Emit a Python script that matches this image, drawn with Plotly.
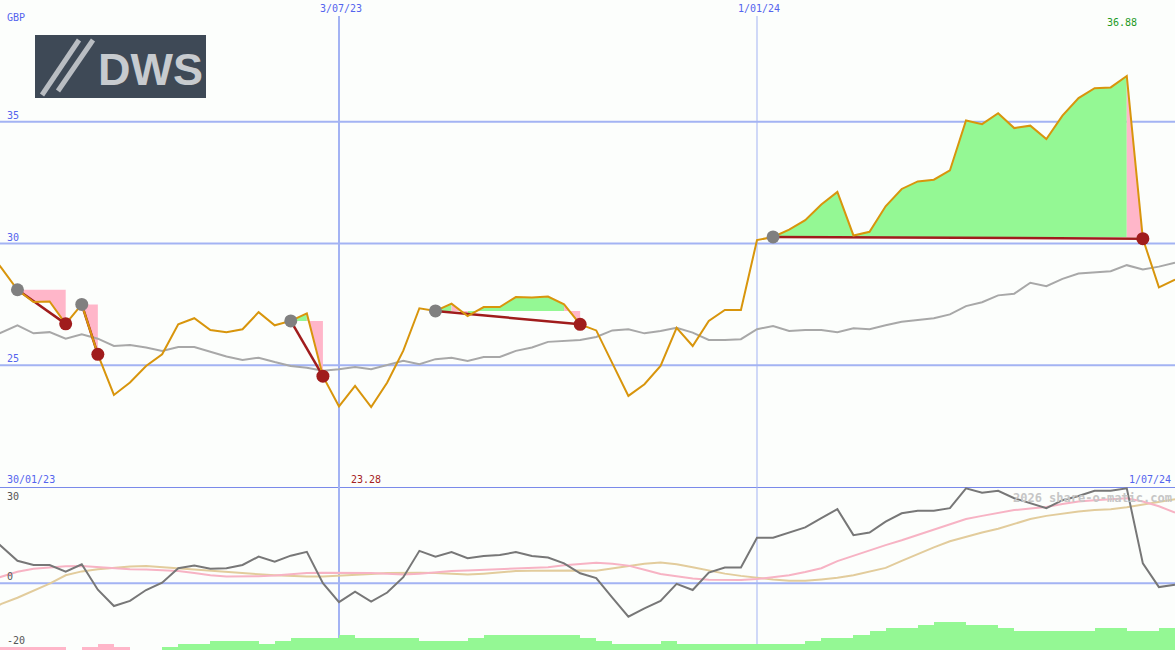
import pandas as pd
import plotly.graph_objects as go

# ---------------- data (weekly, 30/01/23 .. 1/07/24) ----------------
dates = pd.date_range("2023-01-30", periods=75, freq="7D")

price = [29.8, 29.0, 28.1, 27.6, 27.62, 26.7, 27.5, 25.45, 23.78, 24.29,
         24.97, 25.45, 26.68, 26.93, 26.45, 26.36, 26.48, 27.18, 26.64, 26.82,
         27.13, 24.55, 23.31, 24.15, 23.28, 24.29, 25.6, 27.34, 27.23, 27.53,
         27.02, 27.39, 27.39, 27.80, 27.78, 27.82, 27.5, 26.68, 26.43, 25.1,
         23.74, 24.22, 24.97, 26.54, 25.79, 26.82, 27.27, 27.27, 30.14, 30.27,
         30.57, 30.96, 31.6, 32.12, 30.33, 30.48, 31.53, 32.24, 32.55, 32.62,
         33.0, 35.05, 34.9, 35.35, 34.74, 34.84, 34.29, 35.25, 35.97, 36.38,
         36.41, 36.88, 30.2, 28.2, 28.52]

moving_avg = [26.05, 26.34, 26.64, 26.31, 26.36, 26.09, 26.27, 26.09, 25.79, 25.83,
              25.73, 25.59, 25.75, 25.75, 25.55, 25.36, 25.22, 25.31, 25.13, 24.97,
              24.90, 24.77, 24.84, 24.93, 24.84, 25.0, 25.18, 25.04, 25.25, 25.31,
              25.18, 25.34, 25.34, 25.59, 25.73, 25.96, 26.00, 26.04, 26.16, 26.43,
              26.48, 26.31, 26.41, 26.54, 26.34, 26.04, 26.04, 26.07, 26.48, 26.61,
              26.41, 26.45, 26.45, 26.36, 26.52, 26.48, 26.64, 26.79, 26.86, 26.93,
              27.09, 27.43, 27.59, 27.87, 27.94, 28.39, 28.25, 28.55, 28.77, 28.82,
              28.86, 29.11, 28.93, 29.05, 29.21]

oscillator = [16.0, 11.5, 7.0, 5.7, 5.7, 3.6, 5.9, -2.0, -7.1, -5.5,
              -2.1, 0.2, 4.7, 5.5, 4.5, 4.7, 5.7, 8.3, 6.7, 8.6,
              9.8, 0.0, -5.9, -2.6, -5.7, -2.9, 1.9, 10.1, 8.3, 9.7,
              7.8, 8.5, 8.8, 9.7, 8.5, 8.0, 6.2, 3.1, 1.6, -4.5,
              -10.4, -7.8, -5.5, -0.2, -2.1, 3.3, 4.9, 4.9, 14.2, 14.2,
              15.8, 17.4, 20.3, 23.1, 15.0, 15.8, 19.2, 21.8, 22.6, 22.6,
              23.4, 29.6, 28.2, 28.8, 26.5, 24.9, 23.4, 25.9, 27.2, 28.8,
              28.8, 29.6, 6.2, -1.2, -0.5]

osc_fast = [0.5, 2.0, 3.6, 4.5, 5.0, 5.3, 5.4, 5.0, 4.7, 4.4,
            4.3, 4.1, 3.8, 3.2, 2.5, 2.1, 2.1, 2.2, 2.4, 2.8,
            3.2, 3.3, 3.3, 3.3, 3.2, 3.0, 2.7, 3.0, 3.5, 3.8,
            4.0, 4.2, 4.3, 4.5, 4.7, 5.0, 5.6, 6.1, 6.4, 6.1,
            5.5, 4.2, 2.9, 2.2, 1.5, 1.1, 1.0, 1.0, 1.3, 1.8,
            2.5, 3.5, 4.7, 6.9, 8.6, 10.4, 11.9, 13.4, 15.1, 16.8,
            18.3, 20.0, 21.0, 22.0, 22.8, 23.3, 23.8, 24.7, 25.5, 25.9,
            26.3, 26.5, 25.5, 24.0, 22.0]

osc_slow = [-9.0, -6.4, -4.5, -2.3, -0.1, 2.5, 3.7, 4.4, 4.9, 5.2,
            5.4, 5.0, 4.6, 4.2, 3.9, 3.5, 3.1, 2.8, 2.5, 2.2,
            2.1, 2.1, 2.3, 2.6, 2.9, 3.2, 3.3, 3.3, 3.2, 3.0,
            2.7, 3.0, 3.5, 3.8, 3.9, 4.0, 4.1, 4.0, 3.9, 4.6,
            5.4, 6.1, 6.5, 5.9, 5.0, 4.0, 3.0, 2.3, 1.7, 1.2,
            0.8, 0.8, 1.2, 1.7, 2.5, 3.6, 4.8, 7.0, 9.2, 11.2,
            13.1, 14.5, 15.8, 17.0, 18.6, 20.0, 21.0, 21.8, 22.4, 22.8,
            23.1, 23.7, 24.5, 25.3, 26.2]

# weekly strength histogram (negative = pink, positive = green)
strength = [-1, -1, -1, -1, -1, 0, -1, -2, -1, 0,
            0, 1, 2, 2, 3, 3, 3, 2, 3, 4,
            4, 4, 5, 4, 4, 4, 4, 3, 3, 3,
            4, 5, 5, 5, 5, 5, 5, 4, 3, 2,
            2, 2, 3, 2, 2, 2, 2, 2, 2, 2,
            2, 3, 4, 4, 5, 6, 7, 7, 8, 9,
            9, 8, 8, 7, 6, 6, 6, 6, 6, 7,
            7, 6, 6, 7, 7]

entry_dates = ["2023-02-13", "2023-03-13", "2023-06-12", "2023-08-14", "2024-01-08"]
exit_dates = ["2023-03-06", "2023-03-20", "2023-06-26", "2023-10-16", "2024-06-17"]

marker_dates = ["2023-07-03", "2024-01-01"]
marker_labels = ["3/07/23", "1/01/24"]
price_ticks = [35, 30, 25]
osc_ticks = [30, 0, -20]
start_label = "30/01/23"
end_label = "1/07/24"
currency = "GBP"

# ---------------- styling ----------------
BG = "#fcfefc"
GRID = "#a3b3f3"
BORDER = "#7a8aea"
BLUE_TXT = "#5464ee"
GREEN_FILL = "#94f894"
PINK_FILL = "#ffb6c9"
ORANGE = "#d8950c"
DARK_RED = "#a01c1c"
MONO = "DejaVu Sans Mono"

W, H = 1175, 650
LOWER_FRAC = 163 / H

fig = go.Figure()

# ---------------- trade fills ----------------
idx = {d: i for i, d in enumerate(dates)}
green_x, green_y, pink_x, pink_y = [], [], [], []
for ed, xd in zip(entry_dates, exit_dates):
    a = idx[pd.Timestamp(ed)]
    b = idx[pd.Timestamp(xd)]
    level = price[a]
    s = a
    while s < b:
        up = price[s + 1] >= level
        e = s
        while e + 1 < b and (price[e + 2] >= level) == up:
            e += 1
        xs = [dates[s]] + list(dates[s:e + 2]) + [dates[e + 1], None]
        ys = [level] + price[s:e + 2] + [level, None]
        if up:
            green_x += xs
            green_y += ys
        else:
            pink_x += xs
            pink_y += ys
        s = e + 1

fig.add_trace(go.Scatter(x=green_x, y=green_y, fill="toself", fillcolor=GREEN_FILL,
                         mode="none", hoverinfo="skip", showlegend=False))
fig.add_trace(go.Scatter(x=pink_x, y=pink_y, fill="toself", fillcolor=PINK_FILL,
                         mode="none", hoverinfo="skip", showlegend=False))

# moving average
fig.add_trace(go.Scatter(x=dates, y=moving_avg, mode="lines",
                         line=dict(color="#a8a8a8", width=2), showlegend=False))

# trade lines
tl_x, tl_y = [], []
for ed, xd in zip(entry_dates, exit_dates):
    a = idx[pd.Timestamp(ed)]
    b = idx[pd.Timestamp(xd)]
    tl_x += [dates[a], dates[b], None]
    tl_y += [price[a], price[b], None]
fig.add_trace(go.Scatter(x=tl_x, y=tl_y, mode="lines",
                         line=dict(color=DARK_RED, width=2.5), showlegend=False))

# price
fig.add_trace(go.Scatter(x=dates, y=price, mode="lines",
                         line=dict(color=ORANGE, width=2), showlegend=False))

# entry / exit dots
ent_i = [idx[pd.Timestamp(d)] for d in entry_dates]
ext_i = [idx[pd.Timestamp(d)] for d in exit_dates]
fig.add_trace(go.Scatter(x=[dates[i] for i in ent_i], y=[price[i] for i in ent_i],
                         mode="markers", marker=dict(color="#808080", size=13),
                         showlegend=False))
fig.add_trace(go.Scatter(x=[dates[i] for i in ext_i], y=[price[i] for i in ext_i],
                         mode="markers", marker=dict(color=DARK_RED, size=13),
                         showlegend=False))

# ---------------- lower panel ----------------
fig.add_trace(go.Scatter(x=dates, y=osc_slow, mode="lines", yaxis="y2",
                         line=dict(color="#e2cc9c", width=2), showlegend=False))
fig.add_trace(go.Scatter(x=dates, y=osc_fast, mode="lines", yaxis="y2",
                         line=dict(color="#f7b3c4", width=2), showlegend=False))
fig.add_trace(go.Scatter(x=dates, y=oscillator, mode="lines", yaxis="y2",
                         line=dict(color="#777777", width=2), showlegend=False))

week_ms = 7 * 24 * 3600 * 1000
fig.add_trace(go.Bar(x=dates, y=[abs(v) for v in strength], yaxis="y3",
                     width=[week_ms] * len(dates), offset=0,
                     marker=dict(color=[GREEN_FILL if v > 0 else PINK_FILL for v in strength],
                                 line=dict(width=0)),
                     showlegend=False, hoverinfo="skip"))

# ---------------- shapes ----------------
shapes = []
for t in price_ticks:
    shapes.append(dict(type="line", xref="paper", yref="y", x0=0, x1=1, y0=t, y1=t,
                       line=dict(color=GRID, width=2), layer="below"))
shapes.append(dict(type="line", xref="paper", yref="y2", x0=0, x1=1, y0=0, y1=0,
                   line=dict(color=GRID, width=2), layer="below"))
shapes.append(dict(type="line", xref="paper", yref="y2", x0=0, x1=1, y0=30, y1=30,
                   line=dict(color=BORDER, width=2), layer="below"))
for d, w in zip(marker_dates, [2, 1]):
    shapes.append(dict(type="line", xref="x", yref="paper", x0=d, x1=d, y0=0,
                       y1=(H - 16) / H, line=dict(color=GRID, width=w), layer="below"))

# logo
def px(x, y):
    return x / W, (H - y) / H

lx0, ly0 = px(35, 98)
lx1, ly1 = px(206, 35)
shapes.append(dict(type="rect", xref="paper", yref="paper", x0=lx0, y0=ly0, x1=lx1, y1=ly1,
                   fillcolor="#3e4956", line=dict(width=0), layer="above"))
for (xa, ya, xb, yb) in [(42, 95, 79, 40), (58, 91, 93, 40)]:
    p0 = px(xa, ya)
    p1 = px(xb, yb)
    shapes.append(dict(type="line", xref="paper", yref="paper", x0=p0[0], y0=p0[1],
                       x1=p1[0], y1=p1[1], line=dict(color="#b9bdc2", width=5),
                       layer="above"))

# ---------------- annotations ----------------
ann = []
def label(text, x, y, xref, yref, xanchor, yanchor, color, size=10, xshift=0, yshift=0,
          family=MONO):
    ann.append(dict(text=text, x=x, y=y, xref=xref, yref=yref, xanchor=xanchor,
                    yanchor=yanchor, showarrow=False, xshift=xshift, yshift=yshift,
                    font=dict(family=family, size=size, color=color)))

label(currency, 5 / W, (H - 18) / H, "paper", "paper", "left", "middle", BLUE_TXT)
for t in price_ticks:
    label(str(t), 5 / W, t, "paper", "y", "left", "bottom", BLUE_TXT, yshift=-1)
for d, t in zip(marker_dates, marker_labels):
    label(t, d, 1, "x", "paper", "center", "top", BLUE_TXT, xshift=2, yshift=-1)
label(start_label, 5 / W, 30, "paper", "y2", "left", "bottom", BLUE_TXT)
label(end_label, 1, 30, "paper", "y2", "right", "bottom", BLUE_TXT, xshift=-2)

imax = max(range(len(price)), key=lambda i: price[i])
imin = min(range(len(price)), key=lambda i: price[i])
label(f"{price[imax]:.2f}", dates[imax], (H - 22) / H, "x", "paper", "center", "middle",
      "#1f9a1f", xshift=-5)
label(f"{price[imin]:.2f}", dates[imin], 30, "x", "y2", "center", "bottom",
      "#a52222", xshift=-5)

for t in osc_ticks:
    if t == max(osc_ticks):
        label(str(t), 5 / W, t, "paper", "y2", "left", "top", "#555555", yshift=-2)
    else:
        label(str(t), 5 / W, t, "paper", "y2", "left", "bottom", "#555555", yshift=-1)

label("<b>2026 share-o-matic.com</b>", 1, 30, "paper", "y2", "right", "top", "#c6c6c6",
      size=12, xshift=-1, yshift=-2)

label("<b>DWS</b>", 150 / W, (H - 69) / H, "paper", "paper", "center", "middle",
      "#c7cbcf", size=45, family="Liberation Sans")

fig.update_layout(
    width=W, height=H,
    margin=dict(l=0, r=0, t=0, b=0),
    paper_bgcolor=BG, plot_bgcolor=BG,
    showlegend=False,
    bargap=0,
    xaxis=dict(range=["2023-02-05 09:36", "2024-07-01 00:00"], showgrid=False,
               zeroline=False, showticklabels=False, showline=False, ticks="",
               anchor="y2"),
    yaxis=dict(domain=[LOWER_FRAC, 1], range=[20, 40], visible=False),
    yaxis2=dict(domain=[0, LOWER_FRAC], range=[-20.8, 30], visible=False),
    yaxis3=dict(overlaying="y2", range=[0, 52.6], visible=False),
    shapes=shapes,
    annotations=ann,
)

fig.write_html(
    "out.html",
    config={"displayModeBar": False},
    post_script="document.body.style.margin='0px';"
                "document.body.style.overflow='hidden';"
                "document.documentElement.style.overflow='hidden';",
)
